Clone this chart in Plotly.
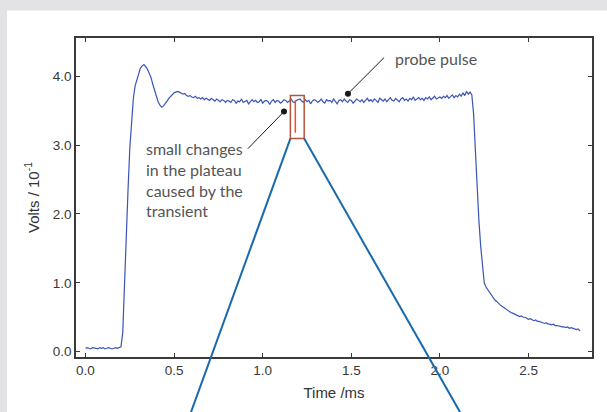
import numpy as np
import plotly.graph_objects as go

# ---- data ----
time_step_ms = 0.01
volts_baseline = [0.05, 0.06, 0.05, 0.04, 0.06, 0.05, 0.05, 0.04, 0.06, 0.05,
                  0.06, 0.04, 0.05, 0.06, 0.05, 0.04, 0.05, 0.06, 0.05, 0.06]
volts_rise = [0.07, 0.27, 1.05, 1.65, 2.35, 2.95, 3.35, 3.68, 3.86, 3.96,
              4.06, 4.12, 4.15, 4.17, 4.14, 4.10, 4.04, 3.98, 3.88, 3.79,
              3.70, 3.63, 3.58, 3.55, 3.57, 3.60, 3.64, 3.68, 3.71, 3.74,
              3.76, 3.77, 3.78, 3.77, 3.76, 3.74, 3.75, 3.72, 3.71, 3.72,
              3.70, 3.69, 3.71, 3.68, 3.69, 3.67, 3.69, 3.66, 3.68, 3.67,
              3.65, 3.68, 3.66, 3.64, 3.67, 3.65, 3.63, 3.66, 3.65, 3.62,
              3.65]
volts_plateau_a = [3.64, 3.62, 3.66, 3.65, 3.61, 3.64, 3.63, 3.67, 3.62, 3.64,
                   3.65, 3.60, 3.64, 3.66, 3.63, 3.65, 3.62, 3.63, 3.66, 3.61,
                   3.64, 3.65, 3.63, 3.59, 3.64, 3.66, 3.62, 3.65, 3.64, 3.61,
                   3.63, 3.66, 3.65, 3.62, 3.64, 3.67, 3.63, 3.62, 3.65, 3.66]
volts_plateau_b = [3.67, 3.64, 3.62, 3.66, 3.63, 3.65, 3.60, 3.64, 3.66, 3.65,
                   3.62, 3.64, 3.67, 3.63, 3.61, 3.66, 3.64, 3.65, 3.62, 3.67,
                   3.63, 3.60, 3.65, 3.66, 3.63, 3.67, 3.64, 3.62, 3.66, 3.65,
                   3.61, 3.64, 3.67, 3.65, 3.63, 3.66, 3.62, 3.65, 3.68, 3.64]
volts_plateau_c = [3.66, 3.63, 3.67, 3.65, 3.62, 3.68, 3.66, 3.64, 3.67, 3.63,
                   3.66, 3.69, 3.65, 3.64, 3.68, 3.66, 3.63, 3.67, 3.69, 3.65,
                   3.67, 3.64, 3.68, 3.66, 3.70, 3.65, 3.67, 3.69, 3.66, 3.68,
                   3.65, 3.69, 3.67, 3.70, 3.66, 3.68, 3.71, 3.67, 3.69, 3.70]
volts_plateau_end = [3.68, 3.71, 3.69, 3.72, 3.68, 3.71, 3.73, 3.69, 3.72, 3.70,
                     3.74, 3.71, 3.76, 3.72, 3.78, 3.74, 3.77, 3.73]
volts_fall = [3.45, 2.92, 2.30, 1.90, 1.53, 1.20, 1.00, 0.94, 0.90, 0.86,
              0.83, 0.79, 0.75, 0.73, 0.70, 0.68, 0.66, 0.64, 0.62, 0.60,
              0.59, 0.57, 0.56, 0.55, 0.54, 0.53, 0.51, 0.52, 0.50, 0.50,
              0.49, 0.47, 0.48, 0.46, 0.45, 0.46, 0.44, 0.44, 0.43, 0.43,
              0.41, 0.42, 0.40, 0.40, 0.39, 0.40, 0.38, 0.38, 0.37, 0.37,
              0.36, 0.36, 0.35, 0.36, 0.34, 0.35, 0.34, 0.33, 0.32, 0.33,
              0.30]

volts = (volts_baseline + volts_rise + volts_plateau_a + volts_plateau_b
         + volts_plateau_c + volts_plateau_end + volts_fall)
time_ms = [round(i * time_step_ms, 2) for i in range(len(volts))]

x_ticks = [0.0, 0.5, 1.0, 1.5, 2.0, 2.5]
x_tick_labels = ["0.0", "0.5", "1.0", "1.5", "2.0", "2.5"]
y_ticks = [0.0, 1.0, 2.0, 3.0, 4.0]
y_tick_labels = ["0.0", "1.0", "2.0", "3.0", "4.0"]

# annotation points (data coords)
probe_dot = (1.481, 3.748)
probe_tail = (1.685, 4.272)
change_dot = (1.12, 3.487)
change_tail = (0.917, 2.95)
zoom_box = dict(x0=1.156, x1=1.234, y0=3.095, y1=3.72)
transient_line = dict(x=1.184, y0=3.65, y1=3.18)

X_RANGE = [-0.0536, 2.858]
Y_RANGE = [-0.077, 4.556]

fig = go.Figure()
fig.add_trace(go.Scatter(x=time_ms, y=volts, mode="lines",
                         line=dict(color="#3a55b6", width=1.2),
                         hoverinfo="skip", showlegend=False))
fig.add_trace(go.Scatter(x=[probe_dot[0], change_dot[0]],
                         y=[probe_dot[1], change_dot[1]], mode="markers",
                         marker=dict(color="#1a1a1a", size=6),
                         hoverinfo="skip", showlegend=False))

def to_paper_x(v):
    return (v - X_RANGE[0]) / (X_RANGE[1] - X_RANGE[0])

def to_paper_y(v):
    return (v - Y_RANGE[0]) / (Y_RANGE[1] - Y_RANGE[0])

shapes = [
    # white panel
    dict(type="rect", xref="paper", yref="paper", x0=-0.1337, x1=1.2,
         y0=-0.4, y1=1.0863, fillcolor="white", line=dict(width=0),
         layer="below"),
    # leader lines
    dict(type="line", xref="x", yref="y", x0=probe_dot[0], y0=probe_dot[1],
         x1=probe_tail[0], y1=probe_tail[1], line=dict(color="#1a1a1a", width=1)),
    dict(type="line", xref="x", yref="y", x0=change_dot[0], y0=change_dot[1],
         x1=change_tail[0], y1=change_tail[1], line=dict(color="#1a1a1a", width=1)),
    # zoom box
    dict(type="rect", xref="x", yref="y", x0=zoom_box["x0"], x1=zoom_box["x1"],
         y0=zoom_box["y0"], y1=zoom_box["y1"],
         line=dict(color="#b5543c", width=1.5)),
    dict(type="line", xref="x", yref="y", x0=transient_line["x"],
         x1=transient_line["x"], y0=transient_line["y0"], y1=transient_line["y1"],
         line=dict(color="#ee4a2e", width=1.5)),
    # zoom fan lines
    dict(type="line", xref="paper", yref="paper",
         x0=to_paper_x(zoom_box["x0"]), y0=to_paper_y(zoom_box["y0"]),
         x1=0.2229, y1=-0.1727, line=dict(color="#1a6aab", width=2)),
    dict(type="line", xref="paper", yref="paper",
         x0=to_paper_x(zoom_box["x1"]), y0=to_paper_y(zoom_box["y0"]),
         x1=0.7442, y1=-0.1727, line=dict(color="#1a6aab", width=2)),
]

ann_font = dict(family="Lato", size=16, color="#555555")
annotations = [
    dict(xref="paper", yref="paper", x=0.6138, y=0.9356, xanchor="left",
         yanchor="middle", text="probe pulse", showarrow=False, font=ann_font),
    dict(xref="paper", yref="paper", x=0.1318, y=0.5565, xanchor="left",
         yanchor="middle", align="left",
         text="small changes<br>in the plateau<br>caused by the<br>transient",
         showarrow=False, font=ann_font),
]

axis_common = dict(showline=True, linecolor="#3a3a3a", linewidth=1.5,
                   mirror="ticks", ticks="inside", ticklen=4, tickwidth=1,
                   tickcolor="#3a3a3a", showgrid=False, zeroline=False,
                   automargin=False,
                   tickfont=dict(family="Liberation Sans", size=13.5, color="#383838"))

title_font = dict(family="Liberation Sans", size=15, color="#333333")

fig.update_layout(
    width=607, height=412,
    margin=dict(l=76, r=15, t=38, b=55),
    paper_bgcolor="#e3e3e5", plot_bgcolor="white",
    shapes=shapes, annotations=annotations,
    xaxis=dict(range=X_RANGE, tickvals=x_ticks, ticktext=x_tick_labels,
               title=dict(text="Time /ms", font=title_font, standoff=11),
               **axis_common),
    yaxis=dict(range=Y_RANGE, tickvals=y_ticks, ticktext=y_tick_labels,
               title=dict(text="Volts / 10<sup>-1</sup>", font=title_font,
                          standoff=10),
               **axis_common),
)

fig.write_html(
    "out.html",
    config={"displayModeBar": False},
    post_script=("document.body.style.margin='0';"
                 "document.body.style.padding='0';"
                 "document.body.style.overflow='hidden';"
                 "document.body.style.background='#e3e3e5';"),
)
